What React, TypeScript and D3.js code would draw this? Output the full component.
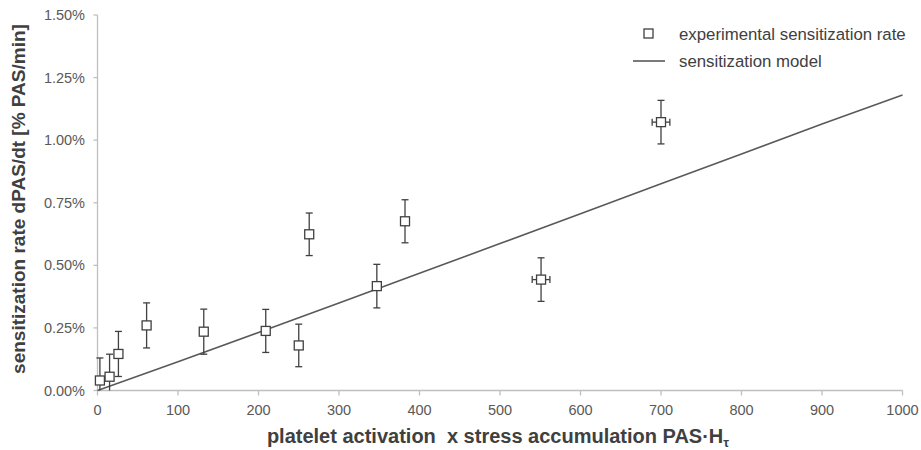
import React from "react";
import * as d3 from "d3";

const pointX = [3, 15, 26, 61, 132, 209, 250, 263, 347, 382, 551, 700];
const pointY = [0.04, 0.055, 0.146, 0.26, 0.235, 0.238, 0.18, 0.624, 0.417, 0.676, 0.443, 1.072];
const errY = [0.09, 0.09, 0.09, 0.09, 0.09, 0.086, 0.085, 0.085, 0.087, 0.086, 0.087, 0.087];
const errX = [0, 0, 0, 0, 0, 0, 0, 3, 0, 0, 11, 11];

const modelX = [0, 100, 200, 300, 400, 500, 600, 700, 800, 900, 1000];
const modelY = [0, 0.115, 0.232, 0.35, 0.468, 0.587, 0.706, 0.826, 0.945, 1.065, 1.18];

const xTicks = [0, 100, 200, 300, 400, 500, 600, 700, 800, 900, 1000];
const yTicks = [0, 0.25, 0.5, 0.75, 1.0, 1.25, 1.5];

const W = 921;
const H = 450;
const left = 97.5;
const right = 902.5;
const top = 15;
const bottom = 390.5;

export default function App() {
  const x = d3.scaleLinear().domain([0, 1000]).range([left, right]);
  const y = d3.scaleLinear().domain([0, 1.5]).range([bottom, top]);
  const line = d3
    .line<number>()
    .x((_, i) => x(modelX[i]))
    .y((d) => y(d));
  const font = "'Liberation Sans', Arial, sans-serif";
  const axisColor = "#bfbfbf";
  const textColor = "#595959";
  const markColor = "#404040";
  const sq = 9;
  const cap = 3.5;

  return (
    <svg
      width={W}
      height={H}
      style={{ position: "absolute", left: 0, top: 0, background: "#fff" }}
      fontFamily={font}
    >
      {/* axes */}
      <line x1={left} x2={left} y1={top} y2={bottom} stroke={axisColor} strokeWidth={1.3} />
      <line x1={left} x2={right} y1={bottom} y2={bottom} stroke={axisColor} strokeWidth={1.3} />
      {yTicks.map((t) => (
        <g key={"y" + t}>
          <line x1={left - 4} x2={left} y1={y(t)} y2={y(t)} stroke={axisColor} strokeWidth={1.3} />
          <text
            x={85}
            y={y(t)}
            textAnchor="end"
            dominantBaseline="central"
            fontSize={14.5}
            fill={textColor}
          >
            {d3.format(".2f")(t) + "%"}
          </text>
        </g>
      ))}
      {xTicks.map((t) => (
        <g key={"x" + t}>
          <line x1={x(t)} x2={x(t)} y1={bottom} y2={bottom + 5} stroke={axisColor} strokeWidth={1.3} />
          <text x={x(t)} y={415} textAnchor="middle" fontSize={14.5} fill={textColor}>
            {t}
          </text>
        </g>
      ))}

      {/* axis titles */}
      <text
        x={498}
        y={443}
        textAnchor="middle"
        fontSize={20}
        fontWeight="bold"
        fill="#404040"
        style={{ whiteSpace: "pre" }}
      >
        {"platelet activation  x stress accumulation PAS·H"}
        <tspan fontSize={13} dy={4}>τ</tspan>
      </text>
      <text
        transform={`translate(25, 199) rotate(-90)`}
        textAnchor="middle"
        fontSize={19}
        fontWeight="bold"
        fill="#404040"
      >
        sensitization rate dPAS/dt [% PAS/min]
      </text>

      {/* model line */}
      <path d={line(modelY) || ""} fill="none" stroke="#595959" strokeWidth={1.6} />

      {/* error bars & points */}
      {pointX.map((px, i) => {
        const cx = x(px);
        const cy = y(pointY[i]);
        const y1 = y(pointY[i] + errY[i]);
        const y0 = y(Math.max(0, pointY[i] - errY[i]));
        const ex = errX[i];
        return (
          <g key={"p" + i} stroke={markColor} strokeWidth={1.3}>
            <line x1={cx} x2={cx} y1={y1} y2={y0} />
            <line x1={cx - cap} x2={cx + cap} y1={y1} y2={y1} />
            {pointY[i] - errY[i] >= 0 && <line x1={cx - cap} x2={cx + cap} y1={y0} y2={y0} />}
            {ex > 0 && (
              <g>
                <line x1={x(px - ex)} x2={x(px + ex)} y1={cy} y2={cy} />
                <line x1={x(px - ex)} x2={x(px - ex)} y1={cy - cap} y2={cy + cap} />
                <line x1={x(px + ex)} x2={x(px + ex)} y1={cy - cap} y2={cy + cap} />
              </g>
            )}
            <rect x={cx - sq / 2} y={cy - sq / 2} width={sq} height={sq} fill="#fff" />
          </g>
        );
      })}

      {/* legend */}
      <rect x={644} y={29} width={9} height={9} fill="#fff" stroke={markColor} strokeWidth={1.3} />
      <text x={679} y={39.5} fontSize={16.8} fill="#404040">
        experimental sensitization rate
      </text>
      <line x1={633} x2={665} y1={61} y2={61} stroke="#595959" strokeWidth={1.6} />
      <text x={679} y={67} fontSize={16.8} fill="#404040">
        sensitization model
      </text>
    </svg>
  );
}
